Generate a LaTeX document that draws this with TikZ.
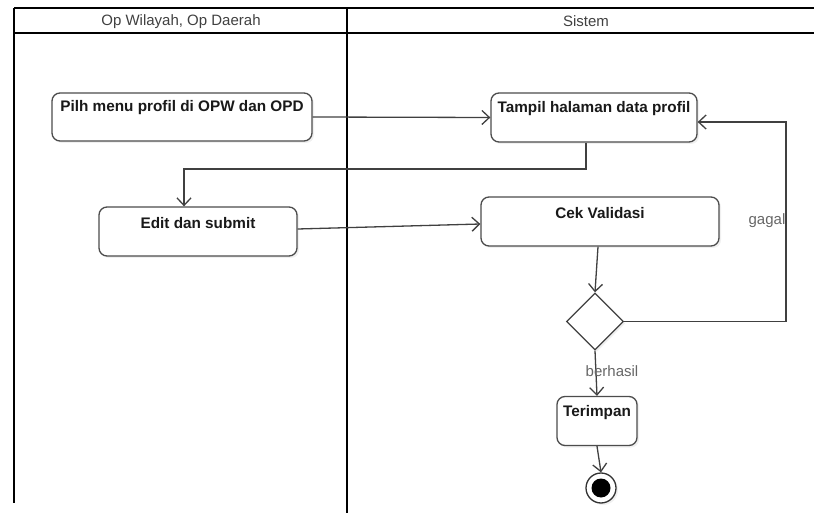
\documentclass[tikz,border=0pt]{standalone}
\usepackage{fontspec}
\setmainfont{Liberation Sans}
\usetikzlibrary{arrows.meta,shapes.geometric,shadows,calc}
\begin{document}
\begin{tikzpicture}[x=1pt,y=-1pt,
  lane/.style={line width=1.8pt,black},
  hdr/.style={font=\fontsize{15}{17}\selectfont,text=black!75},
  actbox/.style={draw=black!70,line width=1.3pt,rounded corners=8pt,fill=white,
    drop shadow={opacity=0.12,shadow xshift=2pt,shadow yshift=-2pt}},
  acttxt/.style={font=\bfseries\fontsize{15.3}{17}\selectfont,text=black!90},
  arr/.style={draw=black!75,line width=1.3pt,-{Straight Barb[length=7.5pt,width=14pt]}},
  lbl/.style={font=\fontsize{15}{17}\selectfont,text=black!60},
  decis/.style={diamond,draw=black!75,line width=1.3pt,fill=white,minimum width=57pt,minimum height=57pt,inner sep=0pt,aspect=1,
    drop shadow={opacity=0.12,shadow xshift=2pt,shadow yshift=-2pt}}
]
\useasboundingbox (0,0) rectangle (814,513);
% swimlanes
\draw[lane] (14,8) -- (814,8);
\draw[lane] (14,33) -- (814,33);
\draw[lane] (14,8) -- (14,503);
\draw[lane] (347,8) -- (347,513);
\node[hdr] (h1) at (181,21.5) {Op Wilayah, Op Daerah};
\node[hdr] (h2) at (586,21.5) {Sistem};
% activities
\node[actbox,minimum width=260pt,minimum height=48pt] (pilh) at (182,117) {};
\node[acttxt] (tpilh) at (182,108) {Pilh menu profil di OPW dan OPD};
\node[actbox,minimum width=198pt,minimum height=49pt] (edit) at (198,231.5) {};
\node[acttxt] (tedit) at (198,223) {Edit dan submit};
\node[actbox,minimum width=206pt,minimum height=49pt] (tampil) at (594,117.5) {};
\node[acttxt] (ttampil) at (594,109) {Tampil halaman data profil};
\node[actbox,minimum width=238pt,minimum height=49pt] (cek) at (600,221.5) {};
\node[acttxt] (tcek) at (600,213) {Cek Validasi};
\node[decis] (dia) at (595,321.5) {};
\node[actbox,minimum width=80pt,minimum height=49pt] (simpan) at (597,421) {};
\node[acttxt] (tsimpan) at (597,413) {Terimpan};
\node[circle,draw=black!80,line width=1.3pt,fill=white,minimum size=30pt,inner sep=0pt,
  drop shadow={opacity=0.12,shadow xshift=2pt,shadow yshift=-2pt}] (endo) at (601,488) {};
\node[circle,fill=black,minimum size=19pt,inner sep=0pt] (endi) at (endo) {};
% connectors
\draw[arr] (pilh.east) -- (tampil.west);
\draw[arr] (586,0 |- tampil.south) -- (586,169) -- (184,169) -- (184,0 |- edit.north);
\draw[arr] ([yshift=2.5pt]edit.east) -- ([yshift=-2.5pt]cek.west);
\draw[arr] ([xshift=-2pt]cek.south) -- (dia.north);
\draw[arr] (dia.east) -- (786,0 |- dia.east) -- (786,122) -- (tampil.east |- 0,122);
\draw[arr] (dia.south) -- (simpan.north);
\draw[arr] (simpan.south) -- (endo.north);
\node[lbl] (gagal) at (767,221) {gagal};
\node[lbl] (berhasil) at (612,371) {berhasil};
\end{tikzpicture}
\end{document}
